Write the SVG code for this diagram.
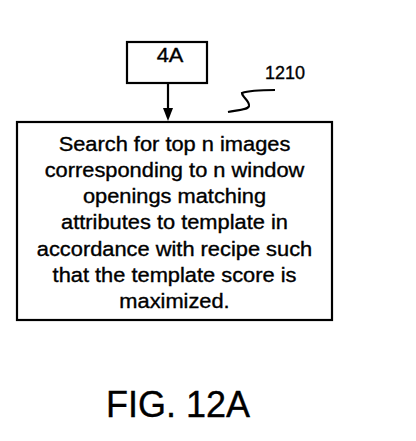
<svg xmlns="http://www.w3.org/2000/svg" width="416" height="441" viewBox="0 0 416 441">
<style>
.box{fill:#fff;stroke:#000;stroke-width:2.2}
.t{font-family:"Liberation Sans",Arial,sans-serif;font-size:19.5px;fill:#000;stroke:#000;stroke-width:0.35;text-anchor:middle}
.line{fill:none;stroke:#000;stroke-width:2.2}
</style>
<rect width="416" height="441" fill="#fff"/>
<g id="node-4A">
<rect class="box" x="127" y="42" width="80" height="41"/>
<text class="t" transform="translate(170,62) scale(1.12,1)">4A</text>
</g>
<g id="connectors">
<line class="line" x1="168" y1="83" x2="168" y2="108"/>
<path d="M163,108 L173,108 L168,121 Z" fill="#000"/>
<path class="line" d="M228,112 C238,110 248,110 249,106 C250,101 242,97 242,93 C250,90 265,90 275,90" stroke-width="1.8"/>
</g>
<g id="label-1210">
<text class="t" x="265" y="79" style="text-anchor:start;font-size:18px">1210</text>
</g>
<g id="node-1210">
<rect class="box" x="17" y="122" width="315" height="198"/>
<text class="t" transform="translate(174.5,151) scale(1.12,1)">Search for top n images</text>
<text class="t" transform="translate(174.5,177) scale(1.12,1)">corresponding to n window</text>
<text class="t" transform="translate(174.5,203) scale(1.12,1)">openings matching</text>
<text class="t" transform="translate(174.5,229) scale(1.12,1)">attributes to template in</text>
<text class="t" transform="translate(174.5,256) scale(1.12,1)">accordance with recipe such</text>
<text class="t" transform="translate(174.5,282) scale(1.12,1)">that the template score is</text>
<text class="t" transform="translate(174.5,308) scale(1.12,1)">maximized.</text>
</g>
<g id="caption">
<text class="t" x="178" y="417" style="font-size:36px">FIG. 12A</text>
</g>
</svg>
